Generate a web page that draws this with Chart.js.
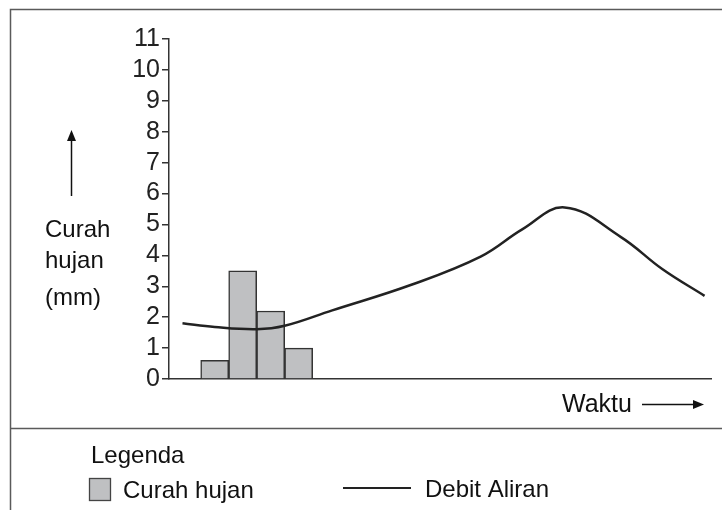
<!DOCTYPE html>
<html>
<head>
<meta charset="utf-8">
<script src="https://cdn.jsdelivr.net/npm/chart.js@4"></script>
<style>
  body { margin:0; background:#fff; }
  #wrap { width:722px; height:510px; }
</style>
</head>
<body>
<div id="wrap"><canvas id="myChart" width="722" height="510"></canvas></div>
<script>
// curah hujan (bars), x = waktu
var rainTimes = [1, 2, 3, 4];
var rainValues = [0.6, 3.5, 2.2, 1.0];

// debit aliran (line)
var flowTimes = [-0.15, 1, 2.5, 3.5, 5.2, 8, 10.5, 12, 13.5, 15.5, 17, 18.5];
var flowValues = [1.8, 1.68, 1.61, 1.72, 2.22, 3.04, 3.96, 4.85, 5.55, 4.6, 3.55, 2.69];

var yTicks = [0, 1, 2, 3, 4, 5, 6, 7, 8, 9, 10, 11];

var FONT = "'Liberation Sans', Arial, sans-serif";

var rainData = rainTimes.map(function(t, i){ return {x: t, y: rainValues[i]}; });
var flowData = flowTimes.map(function(t, i){ return {x: t, y: flowValues[i]}; });

function arrowHead(ctx, x, y, dir) {
  ctx.beginPath();
  if (dir == "up") {
    ctx.moveTo(x, y);
    ctx.lineTo(x - 4.5, y + 11);
    ctx.lineTo(x + 4.5, y + 11);
  } else {
    ctx.moveTo(x, y);
    ctx.lineTo(x - 11, y - 4.5);
    ctx.lineTo(x - 11, y + 4.5);
  }
  ctx.closePath();
  ctx.fill();
}

// frame, axis captions and the legend box
var decor = {
  id: "decor",
  afterDraw: function(chart) {
    var ctx = chart.ctx;
    ctx.save();
    ctx.strokeStyle = "#5a5a5a";
    ctx.lineWidth = 1.5;
    ctx.beginPath();
    ctx.moveTo(10.5, 510);
    ctx.lineTo(10.5, 9.5);
    ctx.lineTo(722, 9.5);
    ctx.moveTo(10, 428.5);
    ctx.lineTo(722, 428.5);
    ctx.stroke();

    ctx.fillStyle = "#111";
    ctx.strokeStyle = "#111";
    ctx.font = "24px " + FONT;
    ctx.textBaseline = "alphabetic";
    ctx.textAlign = "left";
    ctx.fillText("Curah", 45, 237);
    ctx.fillText("hujan", 45, 268);
    ctx.fillText("(mm)", 45, 305);

    // arrow up
    ctx.lineWidth = 1.5;
    ctx.beginPath();
    ctx.moveTo(71.5, 196);
    ctx.lineTo(71.5, 138);
    ctx.stroke();
    arrowHead(ctx, 71.5, 130, "up");

    // Waktu -->
    ctx.font = "25px " + FONT;
    ctx.fillText("Waktu", 562, 412);
    ctx.beginPath();
    ctx.moveTo(642, 404.5);
    ctx.lineTo(694, 404.5);
    ctx.stroke();
    arrowHead(ctx, 704, 404.5, "right");

    // legend
    ctx.font = "24px " + FONT;
    ctx.fillText("Legenda", 91, 463);
    ctx.fillStyle = "#bfc0c2";
    ctx.fillRect(89.5, 478.5, 21, 22);
    ctx.strokeStyle = "#444";
    ctx.lineWidth = 1.3;
    ctx.strokeRect(89.5, 478.5, 21, 22);
    ctx.fillStyle = "#111";
    ctx.fillText("Curah hujan", 123, 498);
    ctx.strokeStyle = "#222";
    ctx.lineWidth = 2;
    ctx.beginPath();
    ctx.moveTo(343, 488);
    ctx.lineTo(411, 488);
    ctx.stroke();
    ctx.fillText("Debit Aliran", 425, 497);
    ctx.restore();
  }
};

new Chart("myChart", {
  type: "bar",
  data: {
    datasets: [{
      type: "line",
      label: "Debit Aliran",
      data: flowData,
      borderColor: "#222",
      borderWidth: 2.5,
      pointRadius: 0,
      tension: 0.4,
      fill: false,
      order: 0
    }, {
      label: "Curah hujan",
      data: rainData,
      backgroundColor: "#bfc0c2",
      borderColor: "#333",
      borderWidth: 1.5,
      barPercentage: 1,
      categoryPercentage: 1,
      order: 1
    }]
  },
  plugins: [decor],
  options: {
    responsive: false,
    animation: false,
    layout: {
      padding: {left: 109, right: 11, top: 39, bottom: 131}
    },
    plugins: {
      legend: { display: false },
      tooltip: { enabled: false }
    },
    scales: {
      x: {
        type: "linear",
        offset: false,
        min: -0.632,
        max: 18.73,
        ticks: { display: false },
        grid: { display: false, drawTicks: false },
        border: { display: true, color: "#333", width: 1.5 },
        afterFit: function(scale) { scale.height = 0; }
      },
      y: {
        min: 0,
        max: 11,
        afterBuildTicks: function(scale) {
          scale.ticks = yTicks.map(function(v){ return {value: v}; });
        },
        ticks: {
          color: "#222",
          padding: 2,
          autoSkip: false,
          font: { family: FONT, size: 25 }
        },
        grid: { drawOnChartArea: false, drawTicks: true, tickLength: 7, color: "#333", lineWidth: 1.5 },
        border: { display: true, color: "#333", width: 1.5 },
        afterFit: function(scale) { scale.width = 60; }
      }
    }
  }
});
</script>
</body>
</html>
